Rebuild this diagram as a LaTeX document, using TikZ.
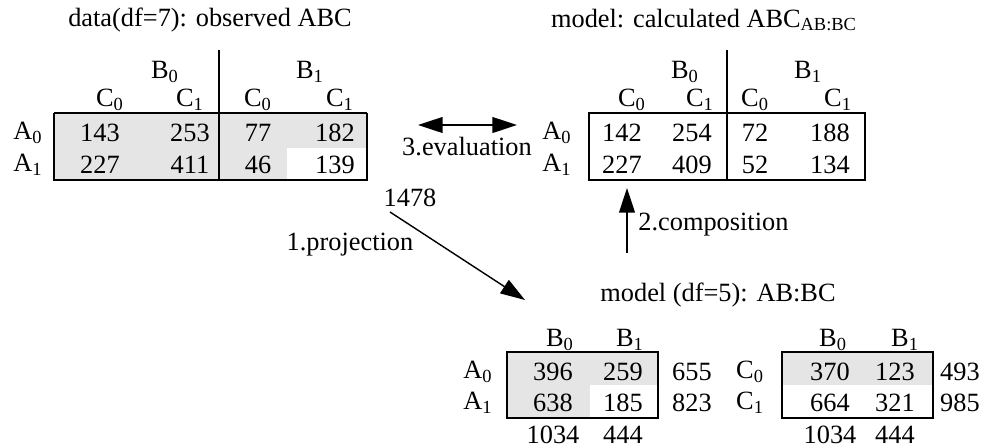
\documentclass[tikz,border=0pt]{standalone}
\usepackage{fontspec}
\setmainfont{Liberation Serif}
\usetikzlibrary{arrows.meta,positioning,calc}

\newcommand{\sub}[2]{#1\textsubscript{#2}}

\begin{document}
\begin{tikzpicture}[x=0.02cm,y=-0.02cm,
  >={Triangle[length=14pt,width=9pt]},
  txt/.style={font=\fontsize{15}{18}\selectfont,inner sep=0pt},
  box/.style={line width=1.1pt},
  shade/.style={fill=gray!20},
  arr/.style={line width=0.8pt}]
  \useasboundingbox (0,0) rectangle (1000,447);

  % observed table
  \fill[shade] (54,113) rectangle (367,180);
  \fill[white] (287,148) rectangle (367,180);
  \draw[line width=0.6pt] (54,113) -- (367,113);
  \draw[box] (367,113) -- (367,180) -- (54,180) -- (54,113);
  \draw[box] (219,50) -- (219,180);
  \node[txt] (obs) at (210,20) {data(df=7): observed ABC};
  \node[txt] (obsB0) at (165,72) {\sub{B}{0}};
  \node[txt] (obsB1) at (310,72) {\sub{B}{1}};
  \node[txt] (obsC00) at (110,100) {\sub{C}{0}}; \node[txt] (obsC01) at (190,100) {\sub{C}{1}};
  \node[txt] (obsC10) at (258,100) {\sub{C}{0}}; \node[txt] (obsC11) at (340,100) {\sub{C}{1}};
  \node[txt] (obsA0) at (28,133) {\sub{A}{0}};
  \node[txt] (obsA1) at (28,165) {\sub{A}{1}};
  \node[txt] (o1) at (100,133) {143}; \node[txt] (o2) at (190,133) {253};
  \node[txt] (o3) at (258,133) {77};  \node[txt] (o4) at (335,133) {182};
  \node[txt] (o5) at (100,165) {227}; \node[txt] (o6) at (190,165) {411};
  \node[txt] (o7) at (258,165) {46};  \node[txt] (o8) at (335,165) {139};

  % calculated table
  \draw[box] (589,113) rectangle (865,180);
  \draw[box] (727,50) -- (727,180);
  \node[txt] (calc) at (704,20) {model: calculated \sub{ABC}{AB:BC}};
  \node[txt] (calB0) at (685,72) {\sub{B}{0}};
  \node[txt] (calB1) at (808,72) {\sub{B}{1}};
  \node[txt] (calC00) at (632,100) {\sub{C}{0}}; \node[txt] (calC01) at (700,100) {\sub{C}{1}};
  \node[txt] (calC10) at (755,100) {\sub{C}{0}}; \node[txt] (calC11) at (838,100) {\sub{C}{1}};
  \node[txt] (calA0) at (557,133) {\sub{A}{0}};
  \node[txt] (calA1) at (557,165) {\sub{A}{1}};
  \node[txt] (c1) at (622,133) {142}; \node[txt] (c2) at (692,133) {254};
  \node[txt] (c3) at (755,133) {72};  \node[txt] (c4) at (830,133) {188};
  \node[txt] (c5) at (622,165) {227}; \node[txt] (c6) at (692,165) {409};
  \node[txt] (c7) at (755,165) {52};  \node[txt] (c8) at (830,165) {134};

  % AB margin
  \fill[shade] (507,352) rectangle (658,418);
  \fill[white] (590,385) rectangle (658,418);
  \draw[box] (507,352) rectangle (658,418);
  \node[txt] (mod) at (718,295) {model (df=5): AB:BC};
  \node[txt] (abB0) at (560,340) {\sub{B}{0}};
  \node[txt] (abB1) at (630,340) {\sub{B}{1}};
  \node[txt] (abA0) at (478,372) {\sub{A}{0}};
  \node[txt] (abA1) at (478,403) {\sub{A}{1}};
  \node[txt] (ab1) at (553,372) {396}; \node[txt] (ab2) at (623,372) {259};
  \node[txt] (ab3) at (553,403) {638}; \node[txt] (ab4) at (623,403) {185};
  \node[txt] (abr0) at (692,372) {655}; \node[txt] (abr1) at (692,403) {823};
  \node[txt] (abk0) at (553,435) {1034}; \node[txt] (abk1) at (623,435) {444};

  % BC margin
  \fill[shade] (782,352) rectangle (933,385);
  \draw[box] (782,352) rectangle (933,418);
  \node[txt] (bcB0) at (833,340) {\sub{B}{0}};
  \node[txt] (bcB1) at (905,340) {\sub{B}{1}};
  \node[txt] (bcC0) at (750,372) {\sub{C}{0}};
  \node[txt] (bcC1) at (750,403) {\sub{C}{1}};
  \node[txt] (bc1) at (830,372) {370}; \node[txt] (bc2) at (895,372) {123};
  \node[txt] (bc3) at (830,403) {664}; \node[txt] (bc4) at (895,403) {321};
  \node[txt] (bcr0) at (960,372) {493}; \node[txt] (bcr1) at (960,403) {985};
  \node[txt] (bck0) at (830,435) {1034}; \node[txt] (bck1) at (895,435) {444};

  % steps
  \coordinate (ev1) at (418,125);
  \coordinate (ev2) at (517,125);
  \coordinate (pj1) at (390,212);
  \coordinate (pj2) at (525,300);
  \coordinate (cp1) at (627,253);
  \coordinate (cp2) at (627,188);
  \node[txt] (total) at (410,198) {1478};
  \draw[arr,<->] (ev1) -- (ev2);
  \node[txt] (eval) at (467,147) {3.evaluation};
  \draw[arr,->] (pj1) -- (pj2);
  \node[txt] (proj) at (350,245) {1.projection};
  \draw[arr,->] (cp1) -- (cp2);
  \node[txt,anchor=west] (comp) at (638,225) {2.composition};
\end{tikzpicture}
\end{document}
